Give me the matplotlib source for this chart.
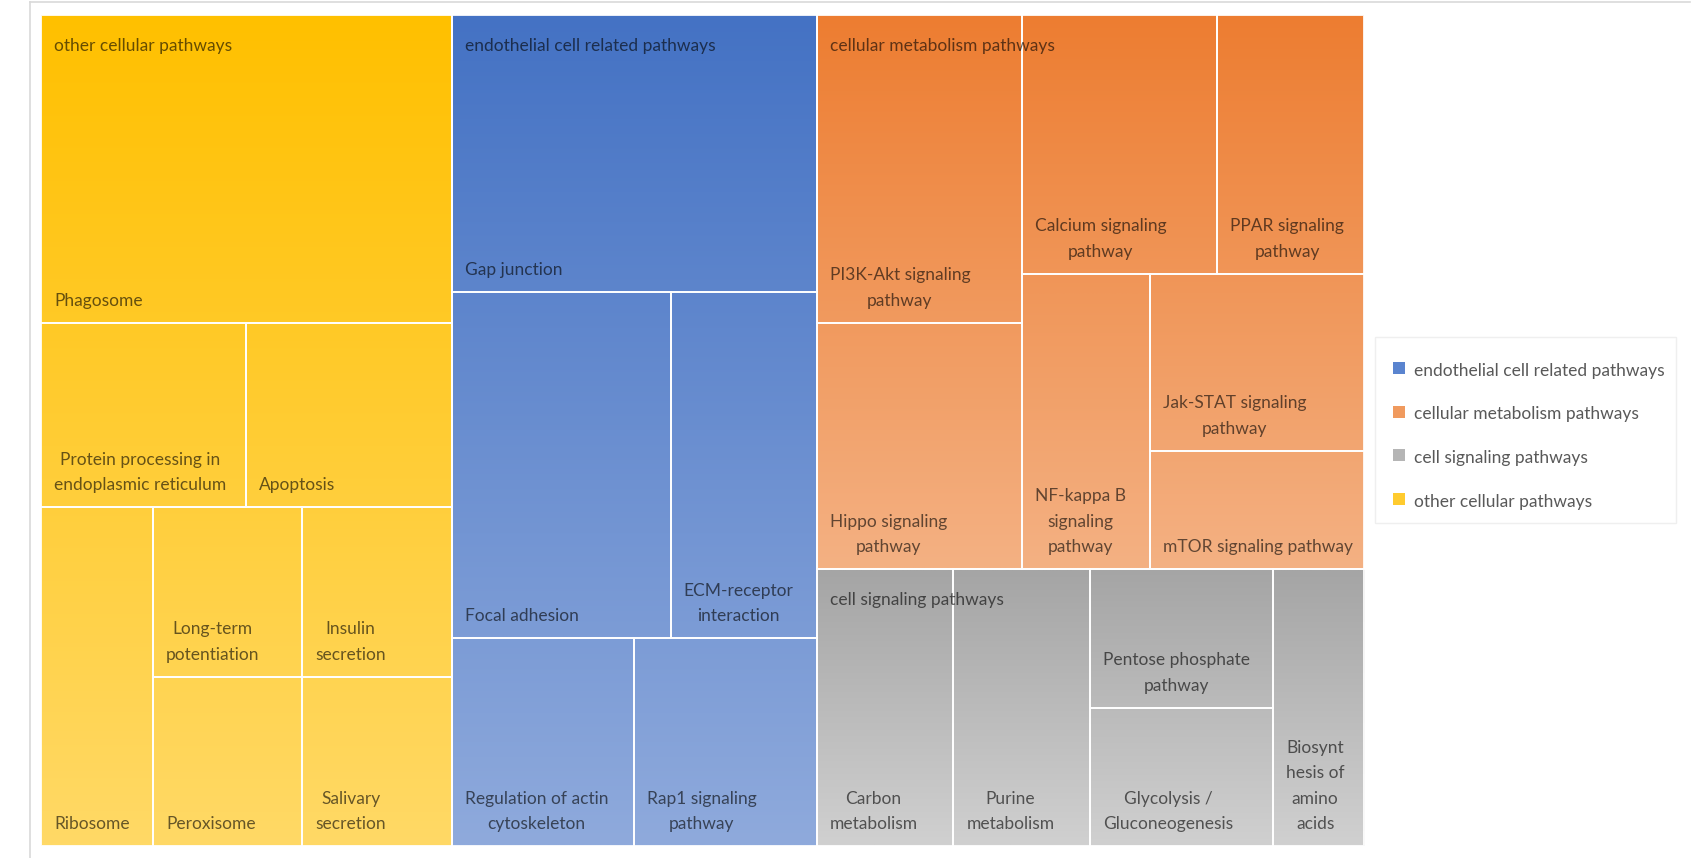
import numpy as np
import matplotlib.pyplot as plt
from matplotlib.patches import Rectangle
from matplotlib.colors import to_rgb

plt.rcParams["font.family"] = ["Lato", "DejaVu Sans"]

# pathway groups, in placement order
groups = ["other cellular pathways", "endothelial cell related pathways",
          "cellular metabolism pathways", "cell signaling pathways"]

other_names = ["Phagosome", "Protein processing in\nendoplasmic reticulum", "Apoptosis",
               "Ribosome", "Long-term\npotentiation", "Insulin\nsecretion",
               "Peroxisome", "Salivary\nsecretion"]
other_counts = [10, 3, 3, 3, 2, 2, 2, 2]

endo_names = ["Gap junction", "Focal adhesion", "ECM-receptor\ninteraction",
              "Regulation of actin\ncytoskeleton", "Rap1 signaling\npathway"]
endo_counts = [8, 6, 4, 3, 3]

metab_names = ["PI3K-Akt signaling\npathway", "Hippo signaling\npathway",
               "Calcium signaling\npathway", "PPAR signaling\npathway",
               "NF-kappa B\nsignaling\npathway", "Jak-STAT signaling\npathway",
               "mTOR signaling pathway"]
metab_counts = [5, 4, 4, 3, 3, 3, 2]

signal_names = ["Carbon\nmetabolism", "Purine\nmetabolism", "Pentose phosphate\npathway",
                "Glycolysis /\nGluconeogenesis", "Biosynt\nhesis of\namino\nacids"]
signal_counts = [3, 3, 2, 2, 2]

# leaves that share one strip of the treemap
other_strips = [[0], [1, 2], [3], [4, 5], [6], [7]]
endo_strips = [[0], [1, 2], [3], [4]]
metab_strips = [[0, 1], [2, 3], [4], [5], [6]]
signal_strips = [[0], [1], [2, 3], [4]]

top_colors = ["#FFC000", "#4472C4", "#ED7D31", "#A5A5A5"]
bottom_colors = ["#FFD966", "#8FAADC", "#F4B183", "#D0D0D0"]
legend_colors = ["#FFCB2E", "#5A84CF", "#F09A5E", "#B5B5B5"]
legend_order = [1, 2, 3, 0]

leaf_names = [other_names, endo_names, metab_names, signal_names]
leaf_counts = [other_counts, endo_counts, metab_counts, signal_counts]
leaf_strips = [other_strips, endo_strips, metab_strips, signal_strips]
group_totals = [sum(c) for c in leaf_counts]

FIG_W, FIG_H = 1698, 858
X0, Y0, W, H = 41, 15, 1323, 831
FS = 12.5
TXT = dict(color="black", alpha=0.6, fontsize=FS)


def strip_layout(values, strips, x, y, w, h):
    """Place each strip along the shorter side of the space left (y grows downward)."""
    rects = [None] * len(values)
    left = float(sum(values))
    for strip in strips:
        sv = float(sum(values[i] for i in strip))
        frac = sv / left
        if h > 1.05 * w:
            bh = h * frac
            cx = x
            for i in strip:
                cw = w * values[i] / sv
                rects[i] = (cx, y, cw, bh)
                cx += cw
            y += bh
            h -= bh
        else:
            bw = w * frac
            cy = y
            for i in strip:
                ch = h * values[i] / sv
                rects[i] = (x, cy, bw, ch)
                cy += ch
            x += bw
            w -= bw
        left -= sv
    return rects


def shade(c0, c1, t0, t1, n=64):
    a, b = np.array(to_rgb(c0)), np.array(to_rgb(c1))
    t = np.linspace(t0, t1, n)[:, None]
    return (a + (b - a) * t)[:, None, :]


fig = plt.figure(figsize=(FIG_W / 100, FIG_H / 100), dpi=100)
ax = fig.add_axes([0, 0, 1, 1])

group_rects = strip_layout(group_totals, [[0], [1], [2], [3]], X0, Y0, W, H)

for g, (gx, gy, gw, gh) in enumerate(group_rects):
    cells = strip_layout(leaf_counts[g], leaf_strips[g], gx, gy, gw, gh)
    for name, (cx, cy, cw, ch) in zip(leaf_names[g], cells):
        t0, t1 = (cy - gy) / gh, (cy + ch - gy) / gh
        ax.imshow(shade(top_colors[g], bottom_colors[g], t0, t1),
                  extent=(cx, cx + cw, cy + ch, cy), origin="upper",
                  aspect="auto", interpolation="bilinear", zorder=1)
        ax.add_patch(Rectangle((cx, cy), cw, ch, fill=False, ec="white",
                               lw=1.4, alpha=0.9, zorder=2))
        ax.text(cx + 13, cy + ch - 14, name, ha="left", va="bottom",
                multialignment="center", linespacing=1.72, zorder=3, **TXT)

for g, (gx, gy, gw, gh) in enumerate(group_rects):
    ax.text(gx + 13, gy + 23, groups[g], ha="left", va="top", zorder=4, **TXT)

# legend
ax.add_patch(Rectangle((1375, 337), 301, 186, fill=False, ec="#EFEFEF", lw=1))
for k, g in enumerate(legend_order):
    ly = 371 + k * 43.5
    ax.add_patch(Rectangle((1393, ly - 9), 12, 12, fc=legend_colors[g], ec="none"))
    ax.text(1414, ly, groups[g], ha="left", va="center", color="#595959", fontsize=FS)

# chart frame
ax.plot([30, 1690], [2, 2], color="#D9D9D9", lw=1.2)
ax.plot([30, 30], [2, FIG_H], color="#D9D9D9", lw=1.2)

ax.set_xlim(0, FIG_W)
ax.set_ylim(FIG_H, 0)
ax.axis("off")
fig.savefig("out.png", dpi=100, facecolor="white")
